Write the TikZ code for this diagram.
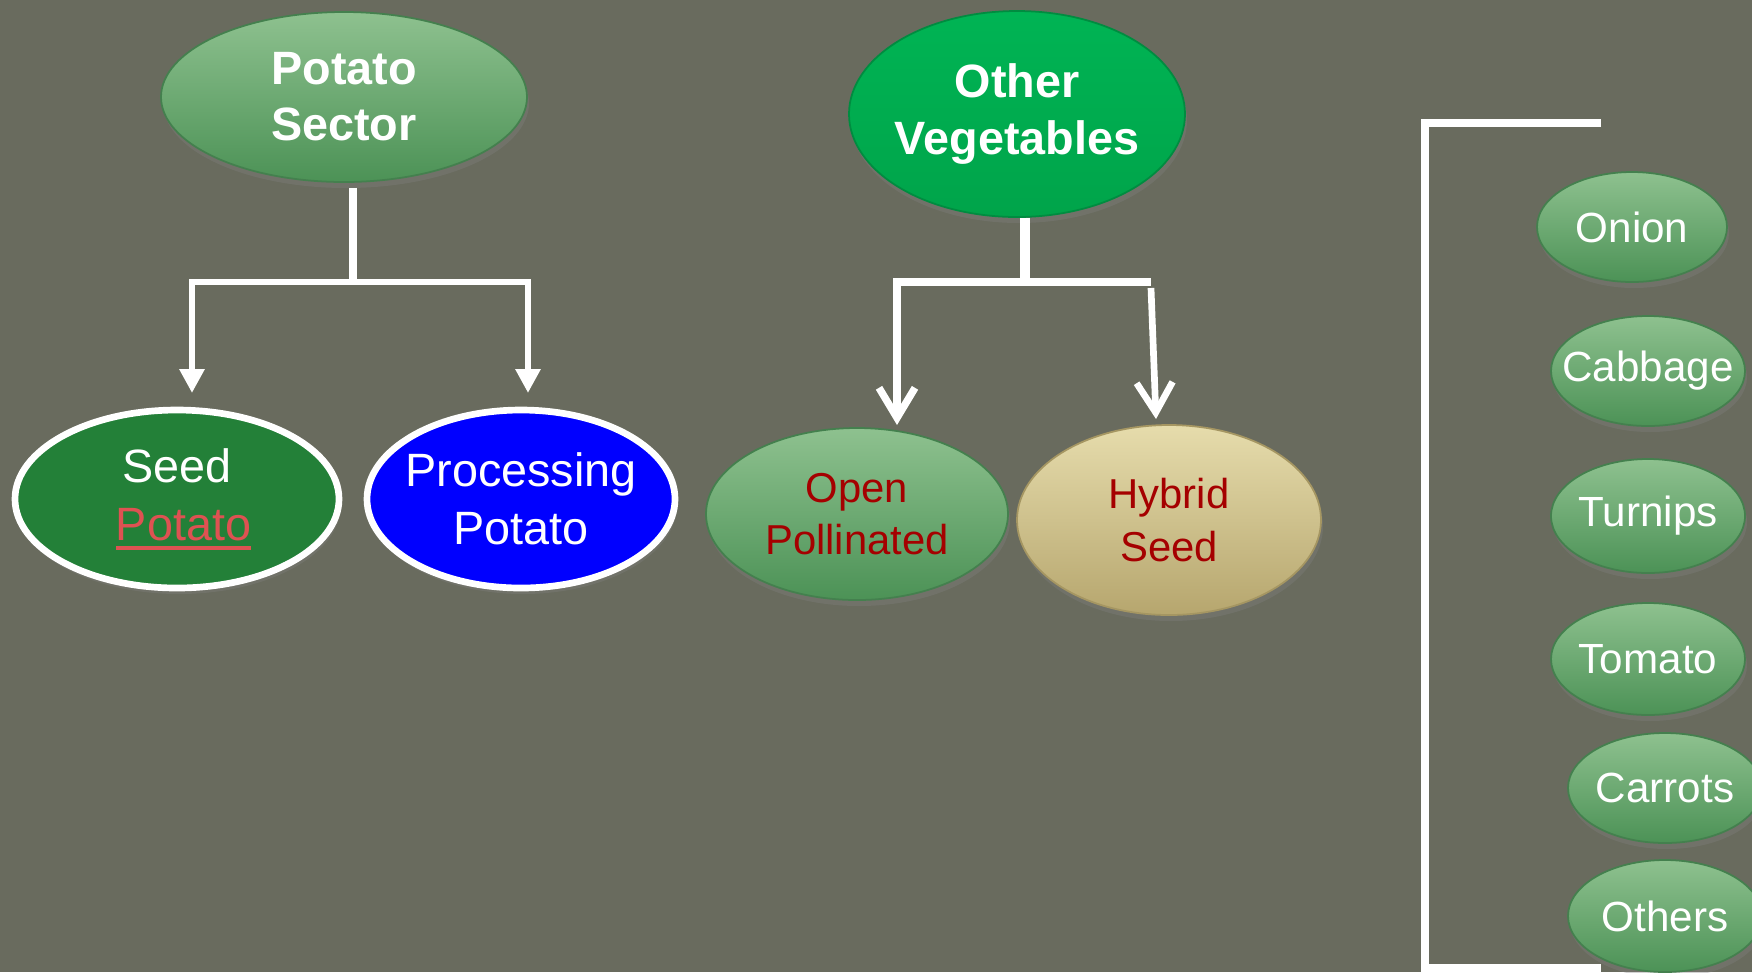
\documentclass[tikz,border=0pt]{standalone}
\usepackage{fontspec}
\setmainfont{Liberation Sans}
\usetikzlibrary{shapes,arrows.meta,shadows}

\definecolor{bgcol}{RGB}{105,107,94}
\definecolor{leafhi}{RGB}{142,193,143}
\definecolor{leaflo}{RGB}{76,146,86}
\definecolor{leafrim}{RGB}{68,128,78}
\definecolor{seedgreen}{RGB}{35,128,56}
\definecolor{procblue}{RGB}{0,0,255}
\definecolor{vegtop}{RGB}{0,180,84}
\definecolor{veglo}{RGB}{0,164,74}
\definecolor{vegrim}{RGB}{0,140,64}
\definecolor{tanhi}{RGB}{230,220,172}
\definecolor{tanlo}{RGB}{182,166,110}
\definecolor{tanrim}{RGB}{165,150,98}
\definecolor{txtred}{RGB}{165,0,0}
\definecolor{linkred}{RGB}{222,82,82}

% thick underline for the linked word
\newcommand{\thickul}[1]{\setbox0\hbox{#1}\rlap{\rule[-2.8pt]{\wd0}{1.1pt}}\box0}

\begin{document}
\begin{tikzpicture}[
    blob/.style={ellipse,inner sep=-0.3cm,align=center,
        drop shadow={opacity=0.35,shadow xshift=0.02cm,shadow yshift=-0.06cm}},
    leaf/.style={blob,top color=leafhi,bottom color=leaflo,draw=leafrim,line width=0.5pt},
    ringed/.style={blob,draw=white,line width=1.9pt},
    headtext/.style={font=\fontsize{13.3pt}{16pt}\selectfont\bfseries,text=white},
    ringtext/.style={font=\fontsize{13.3pt}{16.5pt}\selectfont,text=white},
    redtext/.style={font=\fontsize{11.9pt}{14.9pt}\selectfont,text=txtred},
    veg/.style={leaf,font=\fontsize{12pt}{14pt}\selectfont,text=white,
        minimum width=1.94cm,minimum height=1.1cm},
    wire/.style={white,line width=1.9pt},
    tri/.style={wire,{Triangle[width=0.24cm,length=0.24cm]}-{Triangle[width=0.24cm,length=0.24cm]}},
    vee/.style={wire,-{Straight Barb[width=0.36cm,length=0.3cm]}}
]
    \useasboundingbox (0,0) rectangle (17.52,-9.72);
    \fill[bgcol] (0,0) rectangle (17.52,-9.72);

    %potato sector
    \node[leaf,headtext,minimum width=3.66cm,minimum height=1.7cm] (sector) at (3.44,-0.97) {Potato\\Sector};
    \node[ringed,fill=seedgreen,ringtext,minimum width=3.24cm,minimum height=1.78cm] (seed) at (1.77,-4.99)
        {Seed\\\hspace*{0.13cm}\textcolor{linkred}{\thickul{Potato}}};
    \node[ringed,fill=procblue,ringtext,minimum width=3.08cm,minimum height=1.78cm] (proc) at (5.21,-4.99)
        {Processing\\Potato};

    \coordinate (pjoin) at (3.53,-2.82);
    \coordinate (seedtip) at (1.92,-3.93);
    \coordinate (proctip) at (5.28,-3.93);
    \draw[wire,line width=2.1pt] (sector.south -| pjoin) ++(0,-0.05) -- (pjoin);
    \draw[tri] (seedtip) |- (pjoin) -| (proctip);

    %other vegetables
    \node[blob,top color=vegtop,bottom color=veglo,draw=vegrim,line width=0.5pt,headtext,
        minimum width=3.36cm,minimum height=2.06cm] (other) at (10.17,-1.14) {Other\\Vegetables};
    \node[leaf,redtext,minimum width=3.02cm,minimum height=1.72cm] (open) at (8.57,-5.14) {Open\\Pollinated};
    \node[blob,top color=tanhi,bottom color=tanlo,draw=tanrim,line width=0.5pt,redtext,
        minimum width=3.04cm,minimum height=1.9cm] (hybrid) at (11.69,-5.20) {Hybrid\\Seed};

    \coordinate (ojoin) at (10.25,-2.82);
    \coordinate (opentip) at (8.97,-4.25);
    \coordinate (obend) at (11.51,-2.82);
    \coordinate (hybtip) at (11.56,-4.19);
    \draw[wire,line width=2.8pt] (other.south -| ojoin) -- (ojoin);
    \draw[vee,line width=2.1pt] (ojoin) -| (opentip);
    \draw[wire,line width=2.1pt] (ojoin) -- (obend);
    \draw[vee] ([yshift=-0.06cm]obend) -- (hybtip);

    %list of crops
    \coordinate (btop) at (16.01,-1.23);
    \coordinate (bcorner) at (14.25,-9.68);
    \coordinate (bbot) at (16.01,-9.68);
    \draw[wire,line width=2.2pt] (btop) -| (bcorner) -- (bbot);

    \node[veg,minimum width=1.90cm] (onion) at (16.32,-2.27) {Onion};
    \node[veg] (cabbage) at (16.48,-3.71) {Cabbage};
    \node[veg,minimum height=1.14cm] (turnips) at (16.48,-5.16) {Turnips};
    \node[veg,minimum height=1.12cm] (tomato) at (16.48,-6.59) {Tomato};
    \node[veg] (carrots) at (16.65,-7.88) {Carrots};
    \node[veg,minimum height=1.12cm] (others) at (16.65,-9.16) {Others};
\end{tikzpicture}
\end{document}
